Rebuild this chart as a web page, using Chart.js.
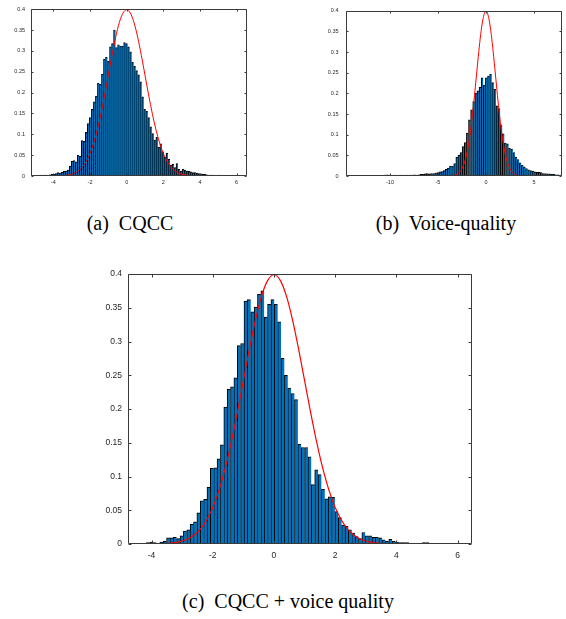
<!DOCTYPE html>
<html>
<head>
<meta charset="utf-8">
<script src="https://cdn.jsdelivr.net/npm/chart.js@4.4.0/dist/chart.umd.min.js"></script>
<style>
  html, body { margin: 0; padding: 0; background: #fff; }
  body { width: 566px; height: 619px; position: relative; overflow: hidden; }
  canvas { position: absolute; }
  .cap {
    position: absolute; width: 300px; text-align: center;
    font-family: 'Liberation Serif', 'Times New Roman', serif;
    font-size: 20px; line-height: 20px; color: #000; white-space: pre;
  }
</style>
</head>
<body>
<canvas id="chartA" width="252" height="195" style="left:0px;top:0px"></canvas>
<canvas id="chartB" width="266" height="195" style="left:300px;top:0px"></canvas>
<canvas id="chartC" width="400" height="302" style="left:80px;top:262px"></canvas>
<div class="cap" style="left:-20px;top:213px">(a)  CQCC</div>
<div class="cap" style="left:296px;top:213px">(b)  Voice-quality</div>
<div class="cap" style="left:138px;top:591px">(c)  CQCC + voice quality</div>

<script>
// 标准正态曲线
const curveX = [-3.6, -3.4, -3.2, -3.0, -2.8, -2.6, -2.4, -2.2, -2.0, -1.8, -1.6, -1.4, -1.2, -1.0, -0.8, -0.6, -0.4, -0.2, 0,
                0.2, 0.4, 0.6, 0.8, 1.0, 1.2, 1.4, 1.6, 1.8, 2.0, 2.2, 2.4, 2.6, 2.8, 3.0, 3.2, 3.4, 3.6];
const curveY = [0.0006, 0.0012, 0.0024, 0.0044, 0.0079, 0.0136, 0.0224, 0.0355, 0.054, 0.079, 0.1109, 0.1497, 0.1942,
                0.242, 0.2897, 0.3332, 0.3683, 0.391, 0.3989,
                0.391, 0.3683, 0.3332, 0.2897, 0.242, 0.1942, 0.1497, 0.1109, 0.079, 0.054, 0.0355, 0.0224, 0.0136,
                0.0079, 0.0044, 0.0024, 0.0012, 0.0006];

const yTicks = [0, 0.05, 0.1, 0.15, 0.2, 0.25, 0.3, 0.35, 0.4];
const yTickLabels = ['0', '0.05', '0.1', '0.15', '0.2', '0.25', '0.3', '0.35', '0.4'];

// (a) CQCC
const binStartA = -5.17, binWidthA = 0.11;
const histA = [0.001, 0.001, 0.0005, 0.001, 0.002, 0.001, 0.002, 0.002, 0.001, 0.003,
               0.004, 0.004, 0.006, 0.008, 0.007, 0.009, 0.012, 0.012, 0.014, 0.024,
               0.035, 0.037, 0.034, 0.05, 0.047, 0.085, 0.083, 0.105, 0.126, 0.14,
               0.16, 0.178, 0.192, 0.223, 0.22, 0.244, 0.28, 0.285, 0.275, 0.31,
               0.318, 0.35, 0.308, 0.315, 0.312, 0.312, 0.32, 0.318, 0.31, 0.298,
               0.273, 0.263, 0.253, 0.243, 0.226, 0.19, 0.16, 0.155, 0.14, 0.118,
               0.102, 0.086, 0.093, 0.069, 0.077, 0.058, 0.045, 0.055, 0.04, 0.026,
               0.028, 0.02, 0.03, 0.016, 0.012, 0.016, 0.014, 0.012, 0.011, 0.01,
               0.008, 0.008, 0.007, 0.006, 0.005, 0.004, 0.004, 0.003, 0.002, 0.002,
               0.002, 0.001, 0.001, 0.002, 0.001, 0.001, 0.001, 0.0005, 0.001, 0.0005,
               0.0005, 0.001, 0.0005, 0.0005];
const xTicksA = [-4, -2, 0, 2, 4, 6];

// (b) Voice-quality
const binStartB = -14.47, binWidthB = 0.22;
const histB = [0.001, 0.001, 0.0005, 0.001, 0.0005, 0.001, 0.001, 0.0005, 0.001, 0.001,
               0.0005, 0.001, 0.001, 0.0005, 0.001, 0.001, 0.001, 0.001, 0.002, 0.003,
               0.002, 0.001, 0.001, 0.002, 0.001, 0.002, 0.002, 0.001, 0.002, 0.002,
               0.002, 0.002, 0.003, 0.002, 0.003, 0.004, 0.004, 0.005, 0.006, 0.005,
               0.006, 0.006, 0.007, 0.008, 0.01, 0.011, 0.013, 0.016, 0.019, 0.024,
               0.024, 0.03, 0.045, 0.05, 0.057, 0.071, 0.081, 0.104, 0.136, 0.16,
               0.18, 0.2, 0.206, 0.215, 0.238, 0.22, 0.238, 0.242, 0.247, 0.226,
               0.21, 0.17, 0.163, 0.124, 0.102, 0.08, 0.078, 0.067, 0.065, 0.057,
               0.045, 0.04, 0.032, 0.026, 0.022, 0.018, 0.015, 0.013, 0.012, 0.01,
               0.009, 0.009, 0.008, 0.006, 0.006, 0.005, 0.005, 0.004, 0.004, 0.003,
               0.003, 0.002];
const xTicksB = [-10, -5, 0, 5];

// (c) CQCC + voice quality
const binStartC = -4.665, binWidthC = 0.11;
const histC = [0.001, 0.001, 0.001, 0.0005, 0, 0.002, 0.003, 0.002, 0.001, 0.003,
               0.004, 0.009, 0.009, 0.01, 0.008, 0.012, 0.019, 0.021, 0.029, 0.033,
               0.046, 0.064, 0.066, 0.084, 0.112, 0.113, 0.126, 0.147, 0.203, 0.229,
               0.233, 0.246, 0.294, 0.297, 0.36, 0.362, 0.344, 0.351, 0.37, 0.375,
               0.336, 0.355, 0.362, 0.355, 0.329, 0.275, 0.25, 0.231, 0.223, 0.214,
               0.148, 0.143, 0.143, 0.129, 0.088, 0.11, 0.103, 0.081, 0.067, 0.07,
               0.069, 0.048, 0.039, 0.028, 0.026, 0.021, 0.016, 0.011, 0.008, 0.017,
               0.012, 0.012, 0.01, 0.01, 0.009, 0.006, 0.004, 0.007, 0.004, 0.003,
               0.002, 0.002, 0.002, 0.001, 0.001, 0.001, 0.001, 0.002, 0.002, 0.001,
               0, 0.001, 0.001, 0.001, 0.001, 0, 0.001, 0, 0.0005, 0.0005];
const xTicksC = [-4, -2, 0, 2, 4, 6];

// 坐标框 + 向内刻度 (MATLAB 风格)
const boxPlugin = {
    id: 'matlabBox',
    afterDatasetsDraw(chart, args, opts) {
        const ctx = chart.ctx;
        const a = chart.chartArea;
        const xs = chart.scales.x, ys = chart.scales.y;
        const len = opts.tickLen;
        ctx.save();
        ctx.strokeStyle = '#3a3a3a';
        ctx.lineWidth = 1;
        ctx.beginPath();
        const l = Math.round(a.left) + 0.5, r = Math.round(a.right) - 0.5;
        const t = Math.round(a.top) + 0.5, b = Math.round(a.bottom) - 0.5;
        ctx.rect(l, t, r - l, b - t);
        xs.ticks.forEach(tk => {
            const px = Math.round(xs.getPixelForValue(tk.value)) + 0.5;
            ctx.moveTo(px, b); ctx.lineTo(px, b - len);
            ctx.moveTo(px, t); ctx.lineTo(px, t + len);
        });
        ys.ticks.forEach(tk => {
            const py = Math.round(ys.getPixelForValue(tk.value)) + 0.5;
            ctx.moveTo(l, py); ctx.lineTo(l + len, py);
            ctx.moveTo(r, py); ctx.lineTo(r - len, py);
        });
        ctx.stroke();
        ctx.restore();
    }
};

function drawHist(id, g) {
    const canvas = document.getElementById(id);
    const bars = g.values.map((v, i) => ({ x: g.start + i * g.width, y: v }));
    const curve = curveX.map((x, i) => ({ x: x, y: curveY[i] }));
    const tickFont = { family: "'Liberation Sans', Arial, sans-serif", size: g.font };

    new Chart(canvas, {
        type: 'bar',
        data: {
            datasets: [
                {
                    type: 'line',
                    data: curve,
                    borderColor: '#ff0000',
                    borderWidth: g.lineW,
                    pointRadius: 0,
                    cubicInterpolationMode: 'monotone',
                    order: 0
                },
                {
                    type: 'bar',
                    data: bars,
                    backgroundColor: '#0072bd',
                    borderColor: '#000000',
                    borderWidth: { left: g.edgeW, top: 1, right: 0, bottom: 0 },
                    barPercentage: 1,
                    categoryPercentage: 1,
                    order: 1
                }
            ]
        },
        options: {
            responsive: false,
            animation: false,
            devicePixelRatio: 1,
            layout: { padding: { top: g.padTop, right: g.padRight, left: 0, bottom: 0 } },
            plugins: {
                legend: { display: false },
                tooltip: { enabled: false },
                matlabBox: { tickLen: g.tickLen }
            },
            scales: {
                x: {
                    type: 'linear',
                    min: g.xMin,
                    max: g.xMax,
                    offset: false,
                    grid: { display: false, drawTicks: false, offset: false },
                    border: { display: false },
                    afterBuildTicks: s => { s.ticks = g.xTicks.map(v => ({ value: v })); },
                    afterFit: s => { s.height = g.xAxisH; },
                    ticks: {
                        font: tickFont, color: '#262626', padding: g.xPad,
                        maxRotation: 0, autoSkip: false,
                        callback: v => String(v)
                    }
                },
                y: {
                    type: 'linear',
                    min: 0,
                    max: 0.4,
                    grid: { display: false, drawTicks: false },
                    border: { display: false },
                    afterBuildTicks: s => { s.ticks = yTicks.map(v => ({ value: v })); },
                    afterFit: s => { s.width = g.yAxisW; },
                    ticks: {
                        font: tickFont, color: '#262626', padding: g.yPad,
                        callback: (v, i) => yTickLabels[i]
                    }
                }
            }
        },
        plugins: [boxPlugin]
    });
}

document.addEventListener('DOMContentLoaded', function() {
    if (typeof Chart === 'undefined') {
        console.error('Chart.js 未加载');
        return;
    }
    drawHist('chartA', {
        values: histA, start: binStartA, width: binWidthA, xTicks: xTicksA,
        xMin: -5.22, xMax: 6.55, font: 5.5, lineW: 1, tickLen: 2, edgeW: 1.3,
        padTop: 6, padRight: 5.3, yAxisW: 31, xAxisH: 19, yPad: 6, xPad: 3
    });
    drawHist('chartB', {
        values: histB, start: binStartB, width: binWidthB, xTicks: xTicksB,
        xMin: -14.58, xMax: 7.95, font: 5.5, lineW: 1, tickLen: 2, edgeW: 1.3,
        padTop: 6, padRight: 3.7, yAxisW: 46, xAxisH: 19, yPad: 7.5, xPad: 3
    });
    drawHist('chartC', {
        values: histC, start: binStartC, width: binWidthC, xTicks: xTicksC,
        xMin: -4.77, xMax: 6.46, font: 8.5, lineW: 1.2, tickLen: 3, edgeW: 1,
        padTop: 12, padRight: 8.3, yAxisW: 48, xAxisH: 20, yPad: 6, xPad: 7
    });
});
</script>
</body>
</html>
